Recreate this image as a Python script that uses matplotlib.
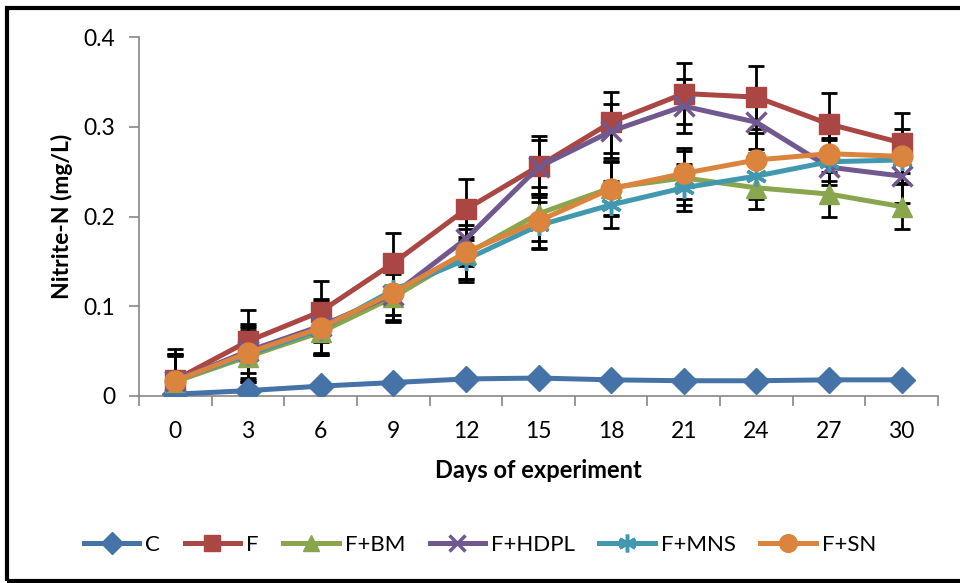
import numpy as np
import matplotlib
matplotlib.use("Agg")
import matplotlib.pyplot as plt
from matplotlib.patches import Rectangle

plt.rcParams['font.family'] = ['Lato', 'DejaVu Sans']

# days of the experiment (categories)
days = [0, 3, 6, 9, 12, 15, 18, 21, 24, 27, 30]

# nitrite-N (mg/L)
c_vals = [0.002, 0.006, 0.011, 0.015, 0.019, 0.020, 0.018, 0.017, 0.017, 0.018, 0.018]
f_vals = [0.018, 0.061, 0.094, 0.148, 0.208, 0.256, 0.305, 0.337, 0.333, 0.303, 0.282]
bm_vals = [0.016, 0.044, 0.071, 0.110, 0.158, 0.203, 0.232, 0.243, 0.232, 0.225, 0.211]
hdpl_vals = [0.017, 0.050, 0.078, 0.113, 0.175, 0.255, 0.295, 0.323, 0.305, 0.255, 0.245]
mns_vals = [0.017, 0.046, 0.074, 0.118, 0.152, 0.190, 0.213, 0.232, 0.245, 0.261, 0.263]
sn_vals = [0.017, 0.048, 0.076, 0.115, 0.160, 0.195, 0.231, 0.248, 0.263, 0.270, 0.267]

# standard deviations (error bars)
c_err = [0.001, 0.001, 0.001, 0.001, 0.001, 0.001, 0.001, 0.001, 0.001, 0.001, 0.001]
f_err = [0.034, 0.035, 0.034, 0.034, 0.034, 0.034, 0.034, 0.034, 0.035, 0.035, 0.033]
bm_err = [0.030, 0.028, 0.024, 0.026, 0.028, 0.030, 0.030, 0.030, 0.024, 0.025, 0.025]
hdpl_err = [0.030, 0.030, 0.030, 0.030, 0.030, 0.030, 0.030, 0.030, 0.030, 0.030, 0.030]
mns_err = [0.028, 0.030, 0.028, 0.028, 0.025, 0.026, 0.026, 0.026, 0.026, 0.026, 0.026]
sn_err = [0.030, 0.030, 0.030, 0.030, 0.030, 0.030, 0.030, 0.028, 0.030, 0.030, 0.030]

series = [
    ("C", c_vals, c_err, "#4572A7", "D", 13),
    ("F", f_vals, f_err, "#AA4643", "s", 14),
    ("F+BM", bm_vals, bm_err, "#89A54E", "^", 14),
    ("F+HDPL", hdpl_vals, hdpl_err, "#71588F", "x", 14),
    ("F+MNS", mns_vals, mns_err, "#4198AF", (6, 2, 0), 15),
    ("F+SN", sn_vals, sn_err, "#DB843D", "o", 15),
]

fig = plt.figure(figsize=(9.6, 5.83), dpi=100)
ax = fig.add_axes([139 / 960, 1 - 396 / 583, (938 - 139) / 960, (396 - 37) / 583])

x = np.arange(len(days))
for name, vals, err, col, mk, ms in series:
    ax.errorbar(x, vals, yerr=err, fmt="none", ecolor="black", elinewidth=2,
                capsize=6, capthick=2, zorder=2)
for i, (name, vals, err, col, mk, ms) in enumerate(series):
    mew = 2.5 if mk in ("x", (6, 2, 0)) else 1
    ax.plot(x, vals, color=col, lw=3.6, marker=mk, ms=ms, mec=col, mew=mew,
            label=name, zorder=3 + i)

ax.set_xlim(-0.5, len(days) - 0.5)
ax.set_ylim(0, 0.4)
ax.set_yticks([0, 0.1, 0.2, 0.3, 0.4])
ax.set_yticklabels(["0", "0.1", "0.2", "0.3", "0.4"])
ax.set_xticks(x)
ax.set_xticklabels([str(d) for d in days])
ax.set_xticks(np.arange(-0.5, len(days), 1), minor=True)
ax.tick_params(axis="x", which="major", length=0, pad=18, labelsize=16.5)
ax.tick_params(axis="x", which="minor", length=7, color="#868686", width=1.2)
ax.tick_params(axis="y", length=7, color="#868686", width=1.2, pad=10, labelsize=16.5)

for s in ("top", "right"):
    ax.spines[s].set_visible(False)
for s in ("left", "bottom"):
    ax.spines[s].set_color("#868686")
    ax.spines[s].set_linewidth(1.2)

ax.set_xlabel("Days of experiment", fontsize=17, fontweight="bold", labelpad=12)
ax.set_ylabel("Nitrite-N (mg/L)", fontsize=16.5, fontweight="bold", labelpad=8)

fig.legend(loc="center", bbox_to_anchor=(0.5, 1 - 545 / 583), ncol=6,
           frameon=False, fontsize=16, handlelength=2.5, columnspacing=1.1,
           handletextpad=0.27, markerscale=0.85)

fig.patches.append(Rectangle((7 / 960, 2 / 583), 1.2, 1 - 10 / 583,
                             transform=fig.transFigure, fill=False,
                             edgecolor="black", lw=3, clip_on=False))

fig.savefig("out.png", dpi=100)
